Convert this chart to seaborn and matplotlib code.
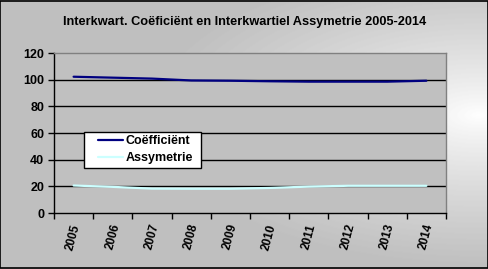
import numpy as np
import pandas as pd
import matplotlib
matplotlib.use("Agg")
import matplotlib.pyplot as plt
import seaborn as sns
from matplotlib.lines import Line2D
from matplotlib.legend_handler import HandlerLine2D

years = ["2005", "2006", "2007", "2008", "2009", "2010", "2011", "2012", "2013", "2014"]
coefficient = [102.2, 101.5, 100.8, 99.4, 99.2, 98.8, 98.5, 98.5, 98.5, 99.2]
assymetrie = [20.6, 19.6, 18.3, 18.2, 18.2, 18.8, 19.8, 20.4, 20.4, 20.4]
series_names = ["Coëfficiënt", "Assymetrie"]
y_ticks = [0, 20, 40, 60, 80, 100, 120]
title = "Interkwart. Coëficiënt en Interkwartiel Assymetrie 2005-2014"

df = pd.DataFrame({
    "pos": list(range(len(years))) * 2,
    "value": coefficient + assymetrie,
    "series": [series_names[0]] * len(years) + [series_names[1]] * len(years),
})

sns.set_theme(style="white")
plt.rcParams["font.family"] = ["Liberation Sans", "DejaVu Sans"]
plt.rcParams["text.color"] = "black"
plt.rcParams["xtick.color"] = "black"
plt.rcParams["ytick.color"] = "black"
plt.rcParams["axes.labelcolor"] = "black"

fig = plt.figure(figsize=(4.89, 2.69), dpi=100)

# background gradient
bg = fig.add_axes([0, 0, 1, 1])
h, w = 269, 489
yy, xx = np.mgrid[0:h, 0:w]
d = np.sqrt(((xx - 478) / 330.0) ** 2 + ((yy - 115) / 150.0) ** 2)
val = np.clip(1.0 - 0.25 * np.clip(d, 0, 1) ** 0.8, 0, 1)
bg.imshow(val, cmap="gray", vmin=0, vmax=1, aspect="auto", extent=[0, 1, 0, 1])
bg.set_xlim(0, 1); bg.set_ylim(0, 1)
bg.axis("off")
bg.add_patch(plt.Rectangle((0.001, 0.002), 0.997, 0.995, fill=False, edgecolor="black", lw=1.2, transform=bg.transAxes))

ax = fig.add_axes([54 / 489, 1 - 213 / 269, 392 / 489, 160 / 269])
ax.set_facecolor("#C0C0C0")

sns.lineplot(data=df, x="pos", y="value", hue="series",
             palette={series_names[0]: "#000080", series_names[1]: "#CCFFFF"},
             linewidth=1.6, ax=ax, legend=True)

ax.set_xlim(-0.5, len(years) - 0.5)
ax.set_ylim(0, 120)
ax.set_yticks(y_ticks)
ax.set_yticklabels([str(t) for t in y_ticks], fontsize=9, fontweight="bold")
for t in y_ticks[1:-1]:
    ax.axhline(t, color="black", lw=1.0, zorder=0.5)

ax.set_xticks(np.arange(-0.5, len(years), 1.0))
ax.set_xticklabels([])
ax.set_xticks(np.arange(len(years)), minor=True)
ax.set_xticklabels(years, minor=True, rotation=75, fontsize=8.5, fontweight="bold",
                   ha="center", va="top")
ax.tick_params(axis="x", which="major", length=4, width=1, color="black", direction="out", bottom=True)
ax.tick_params(axis="x", which="minor", length=0, pad=7)
ax.tick_params(axis="y", length=4, width=1, color="black", direction="out", left=True, pad=3)
ax.set_xlabel("")
ax.set_ylabel("")
for side in ["top", "right"]:
    ax.spines[side].set_color("#808080")
    ax.spines[side].set_linewidth(1.0)
ax.spines["left"].set_color("black")
ax.spines["bottom"].set_color("black")
ax.spines["left"].set_linewidth(1.0)
ax.spines["bottom"].set_linewidth(1.0)

# legend box
box = plt.Rectangle((84 / 489, 1 - 168 / 269), 117 / 489, 36 / 269, transform=fig.transFigure,
                    facecolor="white", edgecolor="black", lw=1.0, zorder=4, clip_on=False)
ax.add_artist(box)
leg = ax.legend(loc="upper left", bbox_to_anchor=(86 / 489, 1 - 135.5 / 269),
                bbox_transform=fig.transFigure, frameon=False,
                prop={"size": 9, "weight": "bold"}, handlelength=3.0,
                handler_map={Line2D: HandlerLine2D(xpad=1.0)},
                borderpad=0.0, labelspacing=0.4, handletextpad=0.15, borderaxespad=0)
leg.set_zorder(5)
for txt in leg.get_texts():
    txt.set_color("black")

fig.text(0.5, 1 - 22 / 269, title, ha="center", va="center", fontsize=9.2,
         fontweight="bold", color="black")

fig.savefig("out.png", dpi=100)
